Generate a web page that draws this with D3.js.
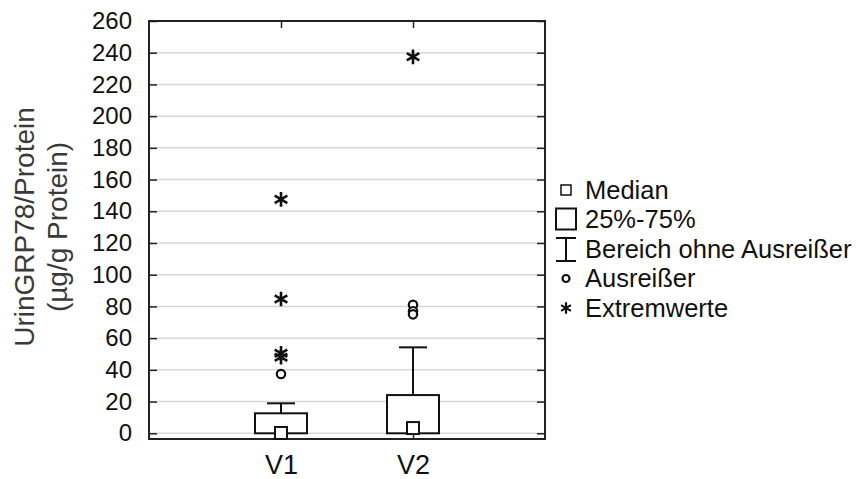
<!DOCTYPE html>
<html lang="de">
<head>
    <meta charset="UTF-8">
    <script type="text/javascript" src="https://d3js.org/d3.v7.min.js"></script>
    <title>UrinGRP78/Protein</title>
    <style>
        body { margin: 0; background: #fff; }
        text { font-family: "Liberation Sans", Arial, sans-serif; }
    </style>
</head>
<body>
    <svg id="svg"></svg>
    <script>
        // data
        const categories = ["V1", "V2"];
        const q1 = [0, 0];
        const q3 = [12.6, 24.1];
        const medians = [0.2, 3.3];
        const whiskerLow = [0, 0];
        const whiskerHigh = [18.9, 54.2];
        const outliers = [[37.4], [81, 77, 75]];
        const extremes = [[147.5, 84.7, 50.5, 48], [237.4]];
        const yTicks = d3.range(0, 261, 20);
        const legendLabels = ["Median", "25%-75%", "Bereich ohne Ausreißer", "Ausreißer", "Extremwerte"];

        const width = 861, height = 479;
        const margin = {top: 21, right: 316, bottom: 40, left: 149};

        const svg = d3.select("#svg").attr("width", width).attr("height", height);

        const x = d3.scalePoint()
            .domain(categories)
            .range([margin.left, width - margin.right])
            .padding(1);
        const y = d3.scaleLinear()
            .domain([-3.6, 260])
            .range([height - margin.bottom, margin.top]);

        const L = margin.left, R = width - margin.right, T = margin.top, B = height - margin.bottom;

        // grid lines
        svg.append("g").selectAll("line").data(yTicks).join("line")
            .attr("x1", L).attr("x2", R)
            .attr("y1", d => y(d)).attr("y2", d => y(d))
            .attr("stroke", "#d8d8d8").attr("stroke-width", 1.5);

        // left axis: inward ticks, labels outside
        const yaxis = d3.axisLeft(y).tickValues(yTicks).tickSize(-8).tickPadding(17);
        svg.append("g").attr("transform", `translate(${L},0)`)
            .call(yaxis)
            .call(g => g.select(".domain").remove())
            .call(g => g.selectAll("line").attr("stroke", "#222").attr("stroke-width", 1.5))
            .call(g => g.selectAll("text").attr("font-size", 24).attr("fill", "#111")
                .attr("font-family", "Liberation Sans, Arial, sans-serif"));

        // right axis ticks
        svg.append("g").attr("transform", `translate(${R},0)`)
            .call(d3.axisRight(y).tickValues(yTicks).tickSize(-8).tickFormat(""))
            .call(g => g.select(".domain").remove())
            .call(g => g.selectAll("line").attr("stroke", "#222").attr("stroke-width", 1.5));

        // top ticks
        svg.append("g").attr("transform", `translate(0,${T})`)
            .call(d3.axisTop(x).tickSize(-7).tickFormat(""))
            .call(g => g.select(".domain").remove())
            .call(g => g.selectAll("line").attr("stroke", "#222").attr("stroke-width", 1.5));

        // bottom axis
        svg.append("g").attr("transform", `translate(0,${B})`)
            .call(d3.axisBottom(x).tickSize(-7).tickPadding(16))
            .call(g => g.select(".domain").remove())
            .call(g => g.selectAll("line").attr("stroke", "#222").attr("stroke-width", 1.5))
            .call(g => g.selectAll("text").attr("font-size", 27).attr("fill", "#111")
                .attr("font-family", "Liberation Sans, Arial, sans-serif"));

        // frame
        svg.append("rect").attr("x", L).attr("y", T).attr("width", R - L).attr("height", B - T)
            .attr("fill", "none").attr("stroke", "#222").attr("stroke-width", 2);

        // boxes
        const boxW = 52, capW = 28, medW = 12;
        const star = d3.symbol().type(d3.symbolAsterisk).size(150);
        const plot = svg.append("g").attr("stroke", "#111").attr("stroke-width", 2).attr("fill", "white");
        categories.forEach((c, i) => {
            const cx = x(c);
            plot.append("line").attr("x1", cx).attr("x2", cx)
                .attr("y1", y(q3[i])).attr("y2", y(whiskerHigh[i]));
            plot.append("line").attr("x1", cx - capW / 2).attr("x2", cx + capW / 2)
                .attr("y1", y(whiskerHigh[i])).attr("y2", y(whiskerHigh[i]));
            plot.append("line").attr("x1", cx).attr("x2", cx)
                .attr("y1", y(q1[i])).attr("y2", y(whiskerLow[i]));
            plot.append("rect").attr("x", cx - boxW / 2).attr("width", boxW)
                .attr("y", y(q3[i])).attr("height", y(q1[i]) - y(q3[i]));
            plot.append("rect").attr("x", cx - medW / 2).attr("width", medW)
                .attr("y", y(medians[i]) - medW / 2).attr("height", medW);
            outliers[i].forEach(v => {
                plot.append("circle").attr("cx", cx).attr("cy", y(v)).attr("r", 4.2).attr("stroke-width", 2.2);
            });
            extremes[i].forEach(v => {
                plot.append("path").attr("d", star).attr("fill", "none").attr("stroke-width", 2.6)
                    .attr("transform", `translate(${cx},${y(v)})`);
            });
        });

        // y axis title
        const ytitle = svg.append("text").attr("fill", "#3a3a3a").attr("font-size", 28)
            .attr("text-anchor", "middle")
            .attr("transform", "translate(34,227) rotate(-90)");
        ytitle.append("tspan").attr("x", 0).attr("y", 0).text("UrinGRP78/Protein");
        ytitle.append("tspan").attr("x", 0).attr("y", 33).text("(µg/g Protein)");

        // legend
        const lg = svg.append("g").attr("transform", "translate(566,190)");
        const rowH = 29.5;
        legendLabels.forEach((t, i) => {
            const row = lg.append("g").attr("transform", `translate(0,${i * rowH})`)
                .attr("stroke", "#111").attr("stroke-width", 2).attr("fill", "white");
            if (i === 0) {
                row.append("rect").attr("x", -5).attr("y", -5).attr("width", 10).attr("height", 10).attr("stroke-width", 1.5);
            } else if (i === 1) {
                row.append("rect").attr("x", -10).attr("y", -11).attr("width", 20).attr("height", 21);
            } else if (i === 2) {
                row.append("path").attr("d", "M-10,-11H10M0,-11V12M-10,12H10").attr("fill", "none");
            } else if (i === 3) {
                row.append("circle").attr("r", 3.5).attr("stroke-width", 2.2);
            } else {
                row.append("path").attr("d", d3.symbol().type(d3.symbolAsterisk).size(90))
                    .attr("fill", "none").attr("stroke-width", 2.2);
            }
            row.append("text").attr("x", 19).attr("y", 0).attr("dy", "0.35em")
                .attr("stroke", "none").attr("fill", "#111").attr("font-size", 25.5).text(t);
        });
    </script>
</body>
</html>
